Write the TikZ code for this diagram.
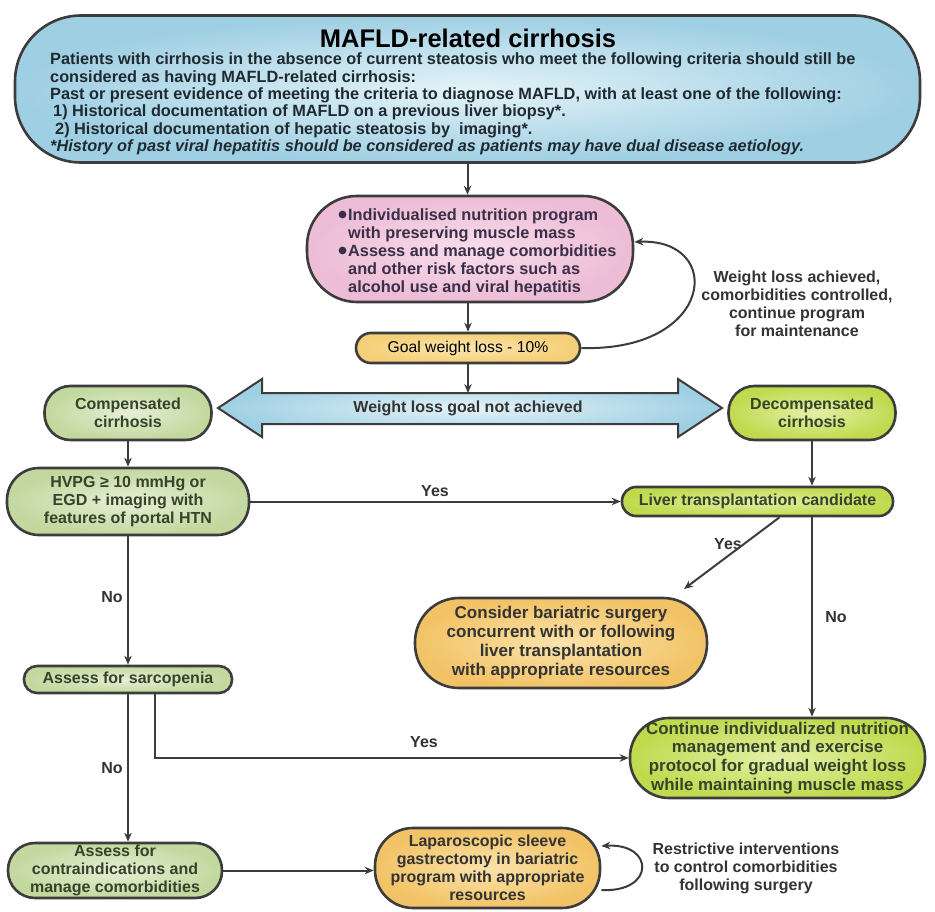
\documentclass[tikz,border=0pt]{standalone}
\usepackage{fontspec}
\setmainfont{Liberation Sans}
\usetikzlibrary{arrows.meta}
\definecolor{bordc}{HTML}{3C3C3C}
\definecolor{txt}{HTML}{333333}
\definecolor{gtxt}{HTML}{34432A}
\definecolor{ptxt}{HTML}{3A2F48}
\definecolor{btxt}{HTML}{1F2A30}
\definecolor{blueO}{HTML}{9FCFE3}
\definecolor{blueI}{HTML}{E4F3F8}
\definecolor{pinkO}{HTML}{EDBCD6}
\definecolor{pinkI}{HTML}{F8DDEB}
\definecolor{goalO}{HTML}{F5CF78}
\definecolor{goalI}{HTML}{FBE5AE}
\definecolor{lgO}{HTML}{C2D89E}
\definecolor{lgI}{HTML}{E6EFD6}
\definecolor{ygO}{HTML}{C0DA4E}
\definecolor{ygI}{HTML}{E4F0A8}
\definecolor{orO}{HTML}{F2C366}
\definecolor{orI}{HTML}{FBE3AC}
\newcommand{\nob}{\makebox[11pt][l]{}}
\begin{document}
\begin{tikzpicture}[x=1pt,y=-1pt,
  every node/.style={font=\bfseries\fontsize{16}{18}\selectfont, text=txt},
  pill/.style={draw=bordc, line width=2.6pt, align=center, inner sep=0pt},
  lgbox/.style={pill, inner color=lgI, outer color=lgO, text=gtxt},
  ygbox/.style={pill, inner color=ygI, outer color=ygO, text=gtxt},
  orbox/.style={pill, inner color=orI, outer color=orO, text=txt},
  arr/.style={-{Stealth[length=9pt,width=7.5pt]}, draw=bordc, line width=2pt},
  lbl/.style={align=center, inner sep=1pt}
]
\useasboundingbox[fill=white] (0,0) rectangle (935,912);

% top box
\node[pill, inner color=blueI, outer color=blueO, minimum width=905, minimum height=147, rounded corners=66] (top) at (467.5,89) {};
\node[inner sep=0pt, font=\bfseries\fontsize{25.5}{28}\selectfont, text=black] (toptitle) at (468,38) {MAFLD-related cirrhosis};
\node[inner sep=0pt, anchor=west, align=left, text=btxt, font=\bfseries\fontsize{16.3}{17.4}\selectfont] (topbody) at (50,104) {Patients with cirrhosis in the absence of current steatosis who meet the following criteria should still be\\
considered as having MAFLD-related cirrhosis:\\
Past or present evidence of meeting the criteria to diagnose MAFLD, with at least one of the following:\\
\hspace*{3pt}1) Historical documentation of MAFLD on a previous liver biopsy*.\\
\hspace*{5pt}2) Historical documentation of hepatic steatosis by\ \ imaging*.\\
{\itshape *History of past viral hepatitis should be considered as patients may have dual disease aetiology.}};

% pink box
\node[pill, inner color=pinkI, outer color=pinkO, minimum width=326, minimum height=106, rounded corners=50] (pink) at (470,249) {};
\node[inner sep=0pt, anchor=west, align=left, text=ptxt, font=\bfseries\fontsize{16.3}{18}\selectfont] (pinktext) at (337,252) {\nob Individualised nutrition program\\
\nob with preserving muscle mass\\
\nob Assess and manage comorbidities\\
\nob and other risk factors such as\\
\nob alcohol use and viral hepatitis};
\fill[ptxt] (342.5,214.5) circle (3.9);
\fill[ptxt] (342.5,250.5) circle (3.9);

% goal
\node[pill, inner color=goalI, outer color=goalO, minimum width=224, minimum height=30, rounded corners=15, font=\mdseries\fontsize{15.7}{18}\selectfont, text=black] (goal) at (468,348) {Goal weight loss - 10\%};

% loop label
\node[lbl] (lmaint) at (797,304) {Weight loss achieved,\\comorbidities controlled,\\continue program\\for maintenance};

% double arrow
\shade[draw=bordc, line width=2pt, inner color=blueI, outer color=blueO]
  (218,408) -- (262,379) -- (262,393) -- (678,393) -- (678,379) -- (722,408) -- (678,437) -- (678,424) -- (262,424) -- (262,437) -- cycle;
\coordinate (wtop) at (468,393);
\node[inner sep=0pt] (wlg) at (468,408) {Weight loss goal not achieved};

% cirrhosis boxes
\node[lgbox, minimum width=167, minimum height=54, rounded corners=26] (comp) at (128,413) {Compensated\\cirrhosis};
\node[ygbox, minimum width=167, minimum height=54, rounded corners=26] (decomp) at (812,413) {Decompensated\\cirrhosis};

\node[lgbox, minimum width=242, minimum height=67, rounded corners=32] (hvpg) at (128,501.5) {HVPG ≥ 10 mmHg or\\EGD + imaging with\\features of portal HTN};
\node[ygbox, minimum width=271, minimum height=29, rounded corners=14] (lt) at (757.5,501.5) {Liver transplantation candidate};

\node[orbox, minimum width=292, minimum height=90, rounded corners=44, font=\bfseries\fontsize{17}{19}\selectfont] (consider) at (561,643) {Consider bariatric surgery\\concurrent with or following\\liver transplantation\\with appropriate resources};

\node[lgbox, minimum width=208, minimum height=27, rounded corners=13] (sarc) at (128,679.5) {Assess for sarcopenia};

\node[ygbox, minimum width=295, minimum height=80, rounded corners=39, font=\bfseries\fontsize{16.9}{18.7}\selectfont] (cont) at (777.5,758) {Continue individualized nutrition\\management and exercise\\protocol for gradual weight loss\\while maintaining muscle mass};

\node[lgbox, minimum width=214, minimum height=55, rounded corners=27] (contra) at (115,870.5) {Assess for\\contraindications and\\manage comorbidities};

\node[orbox, minimum width=225, minimum height=80, rounded corners=38] (lap) at (487.5,868) {Laparoscopic sleeve\\gastrectomy in bariatric\\program with appropriate\\resources};

\node[lbl] (lrest) at (746,868) {Restrictive interventions\\to control comorbidities\\following surgery};

% labels
\node[lbl] (lyes1) at (435,491) {Yes};
\node[lbl] (lyes2) at (728,544) {Yes};
\node[lbl] (lno1) at (836,617) {No};
\node[lbl] (lno2) at (112,597) {No};
\node[lbl] (lyes3) at (424,742) {Yes};
\node[lbl] (lno3) at (112,768) {No};

% connectors
\draw[arr] (top.south) -- (top.south |- pink.north);
\draw[arr] (goal.north |- pink.south) -- (goal.north);
\draw[arr] (goal.east) .. controls (715,352) and (725,238) .. ([yshift=7pt]pink.east);
\draw[arr] (goal.south) -- (wtop);
\draw[arr] (comp.south) -- (hvpg.north);
\draw[arr] (decomp.south) -- (decomp.south |- lt.north);
\draw[arr] (hvpg.east) -- (lt.west);
\coordinate (ctip) at (684,589);
\draw[arr] ([xshift=22pt]lt.south) -- (ctip);
\draw[arr] (decomp.south |- lt.south) -- (decomp.south |- cont.north);
\draw[arr] (hvpg.south) -- (sarc.north);
\draw[arr] ([xshift=27pt]sarc.south) |- (cont.west);
\draw[arr] (sarc.south) -- (sarc.south |- contra.north);
\draw[arr] (contra.east) -- (contra.east -| lap.west);
\draw[arr] ([yshift=-22pt]lap.east) .. controls (655,893) and (655,843) .. ([yshift=22pt]lap.east);
\end{tikzpicture}
\end{document}
